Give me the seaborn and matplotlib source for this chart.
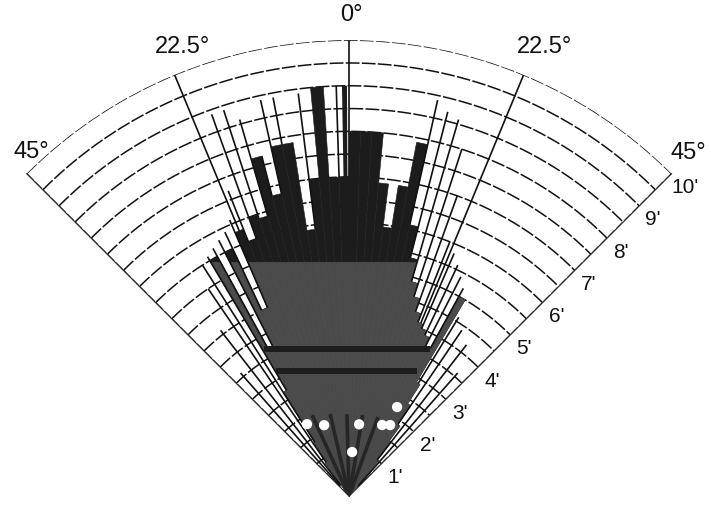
import numpy as np
import matplotlib.pyplot as plt
import seaborn as sns

# ------------------------------------------------------------------
# data  (angles in degrees, ranges in feet)
# ------------------------------------------------------------------
BIN_W = 1.8
bin_centers = np.round(np.arange(-44.1, 44.2, BIN_W), 1)   # 50 angular bins
r_bar = [0.0, 0.0, 0.0, 0.0, 0.0, 0.9, 1.4, 2.7, 6.0, 3.7,
         6.0, 4.5, 6.3, 6.0, 6.5, 6.4, 7.7, 6.8, 7.85, 7.85,
         5.9, 7.0, 9.0, 7.0, 7.0, 8.0, 8.0, 8.0, 6.9, 5.95,
         6.9, 7.9, 6.1, 5.4, 4.9, 4.6, 4.3, 4.1, 4.0, 3.9,
         3.7, 5.0, 2.9, 2.4, 1.9, 1.5, 1.0, 0.5, 0.0, 0.0]

# thin spike right of the centre
spike_theta = [-0.65]
spike_width = [0.7]
spike_r = [9.0]

# grid cell walls (radial segments)
cell_theta = [-41.4, -37.8, -34.2, -32.4, -30.6, -28.8, -27.0, -25.2, -23.4, -21.6,
              -19.8, -18.0, -16.2, -14.4, -12.6, -10.8, -7.2, -1.8,
              12.6, 14.4, 16.2, 18.0, 19.8, 21.6, 23.4, 25.2, 27.0, 28.8,
              31.5, 34.2, 37.8, 41.4]
cell_from = [0.3, 0.3, 0.9, 1.4, 2.7, 3.7, 3.7, 4.5, 4.5, 6.0,
             6.0, 6.4, 6.4, 6.8, 6.8, 7.85, 5.9, 7.0,
             6.1, 5.4, 4.9, 4.6, 4.3, 4.1, 4.0, 3.9, 3.7, 3.7,
             2.9, 1.9, 1.0, 0.3]
cell_to = [3.6, 4.6, 5.5, 6.0, 6.1, 6.2, 6.3, 6.4, 6.6, 7.2,
           8.9, 8.9, 8.6, 7.7, 8.9, 8.9, 8.9, 9.0,
           8.9, 8.7, 8.6, 8.0, 7.0, 6.0, 5.8, 5.6, 5.4, 5.2,
           4.6, 4.4, 4.2, 3.6]

# dark streaks near the sensor and the two dark bands
fan_theta = [-24.5, -13.0, -1.5, 9.5, 20.0]
fan_r = [1.95, 1.85, 1.8, 1.8, 1.85]
band_r = [3.22, 2.74]
band_lo = [-30.0, -30.5]
band_hi = [29.0, 28.6]

# bright spots
dot_theta = [-30.3, -19.4, 7.9, 24.9, 30.0, 28.3, 3.9]
dot_r = [1.83, 1.65, 1.59, 1.72, 1.80, 2.22, 0.97]

ring_values = [1, 2, 3, 4, 5, 6, 7, 8, 9, 10]
ring_labels = ["1'", "2'", "3'", "4'", "5'", "6'", "7'", "8'", "9'", "10'"]
angle_labels = ["45°", "22.5°", "0°", "22.5°", "45°"]

GREY_TOP = 5.13          # grey part ends at a horizontal line
BLACK = '#1c1c1c'
GREY = '#4b4b4b'
INK = '#111111'

# ------------------------------------------------------------------
sns.set_style("white")
plt.rcParams['font.family'] = ['Liberation Sans', 'DejaVu Sans']

fig = plt.figure(figsize=(7.11, 5.05), dpi=100)
# polar wedge only uses ~70% of its box, so the box is made larger
ax = fig.add_axes([-0.151, -0.1695, 1.284, 1.277], projection='polar')
ax.set_theta_zero_location('N')
ax.set_theta_direction(-1)
ax.set_thetamin(-45)
ax.set_thetamax(45)

# range arcs every half foot
th = np.deg2rad(np.linspace(-45, 45, 400))
for r in np.arange(0.5, 10.01, 0.5):
    ax.plot(th, np.full_like(th, r), color=INK, lw=1.1, ls=(0, (9, 1.5)), zorder=1)
# sector edges and reference rays
for a in (-45, 45):
    ax.plot([np.deg2rad(a)] * 2, [0, 10], color=INK, lw=1.1, ls=(0, (6, 1.5)), zorder=1)
for a in (-22.5, 0, 22.5):
    ax.plot([np.deg2rad(a)] * 2, [0, 10], color=INK, lw=1.2, zorder=1)

# range profile bars
ax.bar(np.deg2rad(bin_centers), r_bar, width=np.deg2rad(BIN_W),
       color=BLACK, edgecolor=BLACK, lw=0.4, zorder=3)
ax.bar(np.deg2rad(spike_theta), spike_r, width=np.deg2rad(spike_width),
       color=BLACK, lw=0, zorder=3)

# lower part drawn grey, cut by a horizontal line
for c, rb in zip(bin_centers, r_bar):
    if rb <= 0:
        continue
    t = np.deg2rad(np.linspace(c - BIN_W / 2, c + BIN_W / 2, 12))
    top = np.minimum(rb, GREY_TOP / np.cos(t))
    ax.fill(np.r_[t[0], t, t[-1]], np.r_[0, top, 0], color=GREY, ec=GREY, lw=0.4, zorder=4)

# cell walls
ax.vlines(np.deg2rad(cell_theta), cell_from, cell_to, colors=INK, lw=1.2, zorder=5)

# dark bands
for r0, lo, hi in zip(band_r, band_lo, band_hi):
    t = np.deg2rad(np.linspace(lo, hi, 200))
    ax.plot(t, r0 / np.cos(t), color=BLACK, lw=4.3, solid_capstyle='butt', zorder=5)

# streaks from the sensor
ax.vlines(np.deg2rad(fan_theta), 0, fan_r, colors='#262626', lw=2.6, zorder=5)

# bright spots
sns.scatterplot(x=np.deg2rad(dot_theta), y=dot_r, ax=ax, color='white',
                s=55, edgecolor='none', zorder=6, legend=False)

ax.set_rlim(0, 10)
ax.grid(False)
ax.set_xticks([])
ax.set_yticks([])
ax.set_xlabel('')
ax.set_ylabel('')
for sp in ax.spines.values():
    sp.set_visible(False)

# angle labels
label_pos = [(-42.7, 10.27), (-20.4, 10.5), (0.3, 10.55), (23.5, 10.75), (44.7, 10.58)]
for txt, (a, r) in zip(angle_labels, label_pos):
    ax.text(np.deg2rad(a), r, txt, fontsize=17, ha='center', va='center', color=INK)

# range labels along the right edge
for v, txt in zip(ring_values, ring_labels):
    ax.annotate(txt, xy=(np.deg2rad(45), v), xytext=(10, -10), textcoords='offset points',
                fontsize=15, ha='center', va='center', color=INK)

fig.savefig('out.png', dpi=100)
